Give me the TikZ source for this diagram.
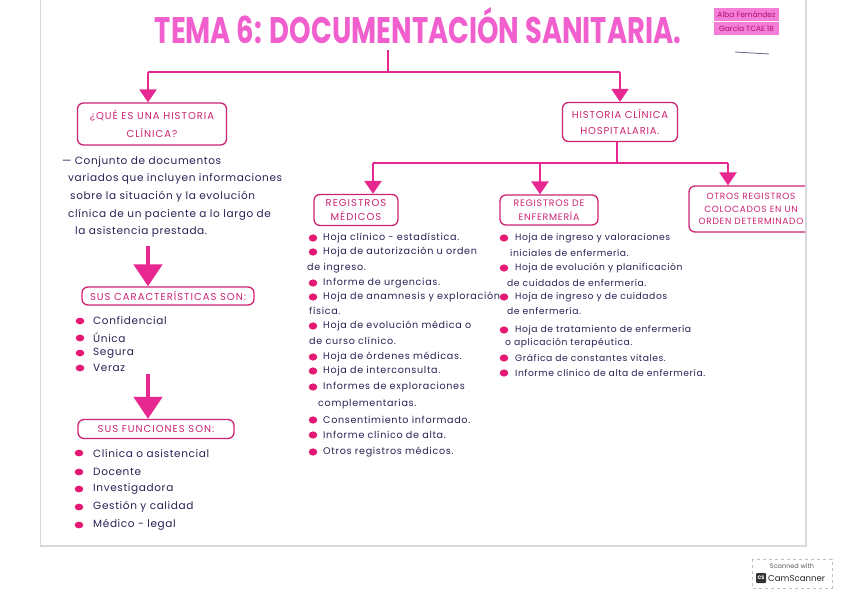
\documentclass[tikz,border=0pt]{standalone}
\usepackage{fontspec}
\setmainfont{Poppins}
\usetikzlibrary{arrows.meta}
\definecolor{titlepink}{RGB}{240,95,205}
\definecolor{linepink}{RGB}{232,40,145}
\definecolor{boxpink}{RGB}{205,35,115}
\definecolor{navy}{RGB}{38,35,85}
\definecolor{bulletpink}{RGB}{228,25,115}
\definecolor{hl}{RGB}{244,125,215}
\definecolor{hltext}{RGB}{175,15,110}
\definecolor{paperedge}{RGB}{215,215,220}
\tikzset{
  tree/.style={draw=linepink, line width=2.6pt},
  arr/.style={tree, -{Triangle[width=17pt,length=13pt]}},
  bigarr/.style={draw=linepink, line width=4.5pt, -{Triangle[width=28pt,length=22pt]}},
  box/.style={draw=boxpink, line width=1.3pt, rounded corners=6pt, text=boxpink,
    font=\fontsize{10}{14}\selectfont\addfontfeature{LetterSpace=10}, align=center, inner sep=2pt},
  body/.style={anchor=west, text=navy, inner sep=0pt},
  bodyL/.style={body, font=\fontsize{10.5}{12}\selectfont\addfontfeature{LetterSpace=6}},
  bodyM/.style={body, font=\fontsize{9.6}{12}\selectfont\addfontfeature{LetterSpace=7}},
  bodyE/.style={body, font=\fontsize{9.2}{12}\selectfont\addfontfeature{LetterSpace=6}},
  bul/.style={fill=bulletpink}
}
\begin{document}
\begin{tikzpicture}[x=1pt,y=-1pt]
\useasboundingbox (0,0) rectangle (848,599);
\fill[white] (0,0) rectangle (848,599);
\begin{scope}
\clip (0,0) rectangle (806,546);
% paper edges
\draw[paperedge, line width=1pt] (40,0) -- (40,546);
% title
\node[text=titlepink, font=\fontsize{37}{40}\selectfont\bfseries, inner sep=0pt, xscale=0.74] (title) at (418,26) {TEMA 6: DOCUMENTACIÓN SANITARIA.};
% author
\fill[hl] (714,8) rectangle (779,21);
\fill[hl] (714,22) rectangle (779,35);
\node[text=hltext, font=\fontsize{7.5}{9}\selectfont, inner sep=0pt] (auth1) at (746.5,14.5) {Alba Fernández};
\node[text=hltext, font=\fontsize{7.5}{9}\selectfont, inner sep=0pt] (auth2) at (746.5,28.5) {García TCAE 1B};
\draw[navy!70, line width=0.8pt] (735,52) -- (769,54);
% main tree
\coordinate (t0) at (388,50);
\coordinate (j0) at (388,72);
\coordinate (jl) at (148,72);
\coordinate (jr) at (620,72);
\node[box, minimum width=149pt, minimum height=42pt, font=\fontsize{10}{18}\selectfont\addfontfeature{LetterSpace=10}] (q) at (152,124) {¿QUÉ ES UNA HISTORIA\\CLÍNICA?};
\node[box, minimum width=115pt, minimum height=39pt, font=\fontsize{10}{16}\selectfont\addfontfeature{LetterSpace=8}] (h) at (620,122) {HISTORIA CLÍNICA\\HOSPITALARIA.};
\draw[tree] (t0) -- (j0);
\draw[tree] (jl) -- (jr);
\draw[arr] (jl) -- (jl |- q.north);
\draw[arr] (jr) -- (jr |- h.north);
% second level
\coordinate (k0) at (617,163);
\coordinate (kl) at (373,163);
\coordinate (km) at (540,163);
\coordinate (kr) at (728,163);
\node[box, minimum width=84pt, minimum height=31pt] (rm) at (356,210) {REGISTROS\\MÉDICOS};
\node[box, minimum width=98pt, minimum height=30pt, font=\fontsize{9.4}{14}\selectfont\addfontfeature{LetterSpace=8}] (re) at (549,210) {REGISTROS DE\\ENFERMERÍA};
\node[box, minimum width=124pt, minimum height=46pt, font=\fontsize{9}{12.5}\selectfont\addfontfeature{LetterSpace=8}] (ro) at (751,209) {OTROS REGISTROS\\COLOCADOS EN UN\\ORDEN DETERMINADO};
\draw[tree] (617,142) -- (k0);
\draw[tree] (kl) -- (kr);
\draw[arr] (kl) -- (kl |- rm.north);
\draw[arr] (km) -- (km |- re.north);
\draw[arr] (kr) -- (kr |- ro.north);
% definition
\node[bodyL] (d1) at (62,162) {— Conjunto de documentos};
\node[bodyL] (d2) at (68,179) {variados que incluyen informaciones};
\node[bodyL] (d3) at (70,197) {sobre la situación y la evolución};
\node[bodyL] (d4) at (68,215) {clínica de un paciente a lo largo de};
\node[bodyL] (d5) at (75,232) {la asistencia prestada.};
% characteristics
\node[box, minimum width=172pt, minimum height=18pt] (cs) at (168,296) {SUS CARACTERÍSTICAS SON:};
\coordinate (a1) at (148,246);
\draw[bigarr] (a1) -- (cs.north -| a1);
\foreach \y/\t [count=\i] in {321/Confidencial, 338/Única, 353/Segura, 368/Veraz}{
  \fill[bul] (80,\y) ellipse (4.3pt and 3.4pt);
  \node[bodyL] (c\i) at (93,\y) {\t};
}
% functions
\node[box, minimum width=156pt, minimum height=19pt] (fs) at (156,429) {SUS FUNCIONES SON:};
\coordinate (a2) at (148,374);
\draw[bigarr] (a2) -- (fs.north -| a2);
\foreach \y/\t [count=\i] in {453/Clínica o asistencial, 472/Docente, 489/Investigadora, 507/Gestión y calidad, 525/Médico - legal}{
  \fill[bul] (79,\y) ellipse (4.3pt and 3.4pt);
  \node[bodyL] (f\i) at (93,\y) {\t};
}
% registros medicos
\foreach \y/\t [count=\i] in {238/Hoja clínico - estadística., 252/Hoja de autorización u orden, 283/Informe de urgencias., 297/Hoja de anamnesis y exploración, 326/Hoja de evolución médica o, 357/Hoja de órdenes médicas., 371/Hoja de interconsulta., 387/Informes de exploraciones, 420/Consentimiento informado., 435/Informe clínico de alta., 452/Otros registros médicos.}{
  \fill[bul] (313,\y) ellipse (4.3pt and 3.6pt);
  \node[bodyM] (m\i) at (323,\y) {\t};
}
\node[bodyM] (mc1) at (307,268) {de ingreso.};
\node[bodyM] (mc2) at (309,311) {física.};
\node[bodyM] (mc3) at (309,341) {de curso clínico.};
\node[bodyM] (mc4) at (318,404) {complementarias.};
% registros enfermeria
\foreach \y/\t [count=\i] in {238/Hoja de ingreso y valoraciones, 268/Hoja de evolución y planificación, 297/Hoja de ingreso y de cuidados, 330/Hoja de tratamiento de enfermería, 358/Gráfica de constantes vitales., 373/Informe clínico de alta de enfermería.}{
  \fill[bul] (504,\y) ellipse (4.3pt and 3.6pt);
  \node[bodyE] (e\i) at (515,\y) {\t};
}
\node[bodyE] (ec1) at (510,253) {iniciales de enfermería.};
\node[bodyE] (ec2) at (507,283) {de cuidados de enfermería.};
\node[bodyE] (ec3) at (507,311) {de enfermería.};
\node[bodyE] (ec4) at (505,343) {o aplicación terapéutica.};
\end{scope}
\draw[paperedge, line width=1.2pt] (806,0) -- (806,546) -- (40,546);
% CamScanner badge
\draw[gray!50, dashed, line width=0.5pt] (752,559) rectangle (832,588);
\node[text=gray!70!black, font=\fontsize{6.5}{8}\selectfont, inner sep=0pt] (scan) at (792,566) {Scanned with};
\fill[black!80, rounded corners=1pt] (756,573) rectangle (766,583);
\node[text=white, font=\fontsize{5}{6}\selectfont\bfseries, inner sep=0pt] (cslogo) at (761,578) {CS};
\node[text=black!85, font=\fontsize{8.6}{10}\selectfont, inner sep=0pt, anchor=west] (cam) at (768,578.5) {CamScanner};
\end{tikzpicture}
\end{document}
